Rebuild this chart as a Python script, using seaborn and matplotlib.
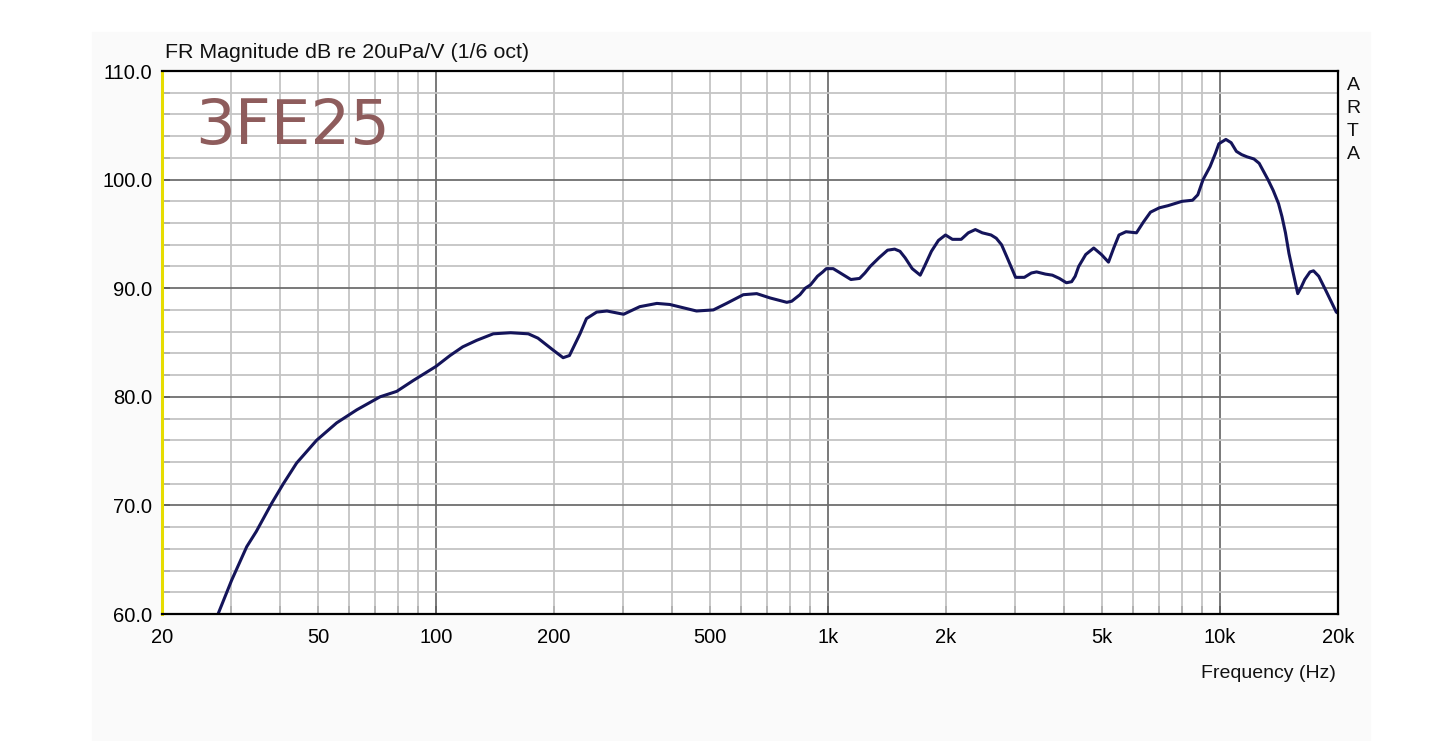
import numpy as np
import pandas as pd
import matplotlib
matplotlib.use("Agg")
import matplotlib.pyplot as plt
import seaborn as sns
from matplotlib.patches import Rectangle
from matplotlib.ticker import FixedLocator, NullFormatter

# frequency response (Hz, dB)
freq = [27.8, 30.1, 32.9, 34.8, 38.1, 40.8, 44.1, 49.6, 55.8, 62.8, 72.0, 79.4,
        87.5, 100, 108.6, 117, 127, 140, 155, 172, 182, 199, 211, 219, 233, 242,
        257, 273, 301, 331, 366, 395, 462, 510, 551, 608, 658, 712, 785, 808,
        848, 875, 902, 940, 970, 990, 1031, 1064, 1109, 1144, 1204, 1242, 1281,
        1349, 1419, 1479, 1526, 1573, 1640, 1719, 1762, 1836, 1913, 1994, 2077,
        2187, 2280, 2376, 2475, 2606, 2687, 2772, 2858, 3010, 3169, 3302, 3405,
        3585, 3736, 3893, 4057, 4184, 4271, 4360, 4544, 4763, 4984, 5194, 5357,
        5525, 5757, 6122, 6380, 6648, 7000, 7370, 7680, 8003, 8511, 8778, 9053,
        9434, 9730, 9933, 10351, 10676, 11011, 11356, 11713, 12205, 12588,
        13255, 13670, 14100, 14390, 14690, 14995, 15307, 15788, 16115, 16451,
        16967, 17320, 17862, 18613, 19800, 20000]
spl = [60.0, 63.1, 66.2, 67.6, 70.2, 72.0, 73.9, 76.0, 77.6, 78.8, 80.0, 80.5,
       81.5, 82.8, 83.8, 84.6, 85.2, 85.8, 85.9, 85.8, 85.4, 84.3, 83.6, 83.8, 85.8, 87.2,
       87.8, 87.9, 87.6, 88.3, 88.6, 88.5, 87.9, 88.0, 88.6, 89.4, 89.5, 89.1, 88.7, 88.8,
       89.4, 90.0, 90.3, 91.1, 91.5, 91.8, 91.8, 91.5, 91.1, 90.8, 90.9, 91.4, 92.0,
       92.8, 93.5, 93.6, 93.4, 92.8, 91.8, 91.2, 92.0, 93.4, 94.4, 94.9, 94.5,
       94.5, 95.1, 95.4, 95.1, 94.9, 94.6, 94.0, 92.9, 91.0, 91.0, 91.4, 91.5,
       91.3, 91.2, 90.9, 90.5, 90.6, 91.1, 92.0, 93.1, 93.7, 93.1, 92.4, 93.7,
       94.9, 95.2, 95.1, 96.1, 97.0, 97.4, 97.6, 97.8, 98.0, 98.1, 98.6, 100.0,
       101.2, 102.4, 103.3, 103.7, 103.4, 102.6, 102.3, 102.1, 101.9, 101.5,
       100.0, 99.0, 97.8, 96.6, 95.1, 93.2, 91.7, 89.5, 90.1, 90.8,
       91.5, 91.6, 91.1, 89.8, 87.8, 87.7]

xticks = [20, 50, 100, 200, 500, 1000, 2000, 5000, 10000, 20000]
xticklabels = ["20", "50", "100", "200", "500", "1k", "2k", "5k", "10k", "20k"]
yticks = [60, 70, 80, 90, 100, 110]

df = pd.DataFrame({"Frequency": freq, "SPL": spl})

sns.set_style("white")
plt.rcParams["font.family"] = ["Liberation Sans", "DejaVu Sans"]

fig = plt.figure(figsize=(14.39, 7.41), dpi=100)
fig.patches.append(Rectangle((92 / 1439, 0), (1370 - 92) / 1439, 1 - 32 / 741,
                             transform=fig.transFigure, color="#fafafa", zorder=-5))
ax = fig.add_axes([162 / 1439, 1 - 614 / 741, (1338 - 162) / 1439, (614 - 71) / 741])
ax.set_facecolor("white")

# grid
minor_x = [m * d for d in (10, 100, 1000) for m in range(2, 10)] + [20000]
for f in minor_x:
    ax.axvline(f, color="#c4c4c4", lw=1.3, zorder=1)
for f in (100, 1000, 10000):
    ax.axvline(f, color="#6e6e6e", lw=1.3, zorder=1)
for v in range(62, 110, 2):
    ax.axhline(v, color="#6e6e6e" if v % 10 == 0 else "#c4c4c4", lw=1.3, zorder=1)

sns.lineplot(data=df, x="Frequency", y="SPL", ax=ax, color="#14145a", lw=2.2,
             zorder=3)

ax.set_xscale("log")
ax.set_xlim(20, 20000)
ax.set_ylim(60, 110)

ax.xaxis.set_major_locator(FixedLocator(xticks))
ax.set_xticklabels(xticklabels)
ax.xaxis.set_minor_locator(FixedLocator([f for f in minor_x if f not in xticks]))
ax.xaxis.set_minor_formatter(NullFormatter())
ax.set_yticks(yticks)
ax.set_yticklabels([f"{v:.1f}" for v in yticks])
ax.yaxis.set_minor_locator(FixedLocator(list(range(62, 110, 2))))

ax.tick_params(axis="both", which="both", direction="in", color="black",
               width=1.4, labelsize=14.5, labelcolor="black",
               bottom=True, left=True, top=False, right=False)
ax.tick_params(axis="x", which="both", length=6, pad=10)
ax.tick_params(axis="y", which="both", length=6, pad=7)

ax.set_xlabel("")
ax.set_ylabel("")

for s in ("top", "right", "bottom"):
    ax.spines[s].set_color("black")
    ax.spines[s].set_linewidth(1.6)
ax.spines["left"].set_color("#e6dc00")
ax.spines["left"].set_linewidth(2.2)
for s in ax.spines.values():
    s.set_zorder(5)

fig.text(165 / 1439, 1 - 52 / 741, "FR Magnitude dB re 20uPa/V (1/6 oct)",
         fontsize=15.4, va="center", ha="left", color="#111111")
fig.text(1336 / 1439, 1 - 673 / 741, "Frequency (Hz)", fontsize=14,
         va="center", ha="right", color="#111111")
fig.text(1353 / 1439, 1 - 120 / 741, "A\nR\nT\nA", fontsize=14, va="center",
         ha="center", linespacing=1.45, color="#111111")
fig.text(195 / 1439, 1 - 127 / 741, "3FE25", fontsize=45, va="center",
         ha="left", color="#8e5c5c", family="DejaVu Sans")

fig.savefig("out.png", dpi=100)
